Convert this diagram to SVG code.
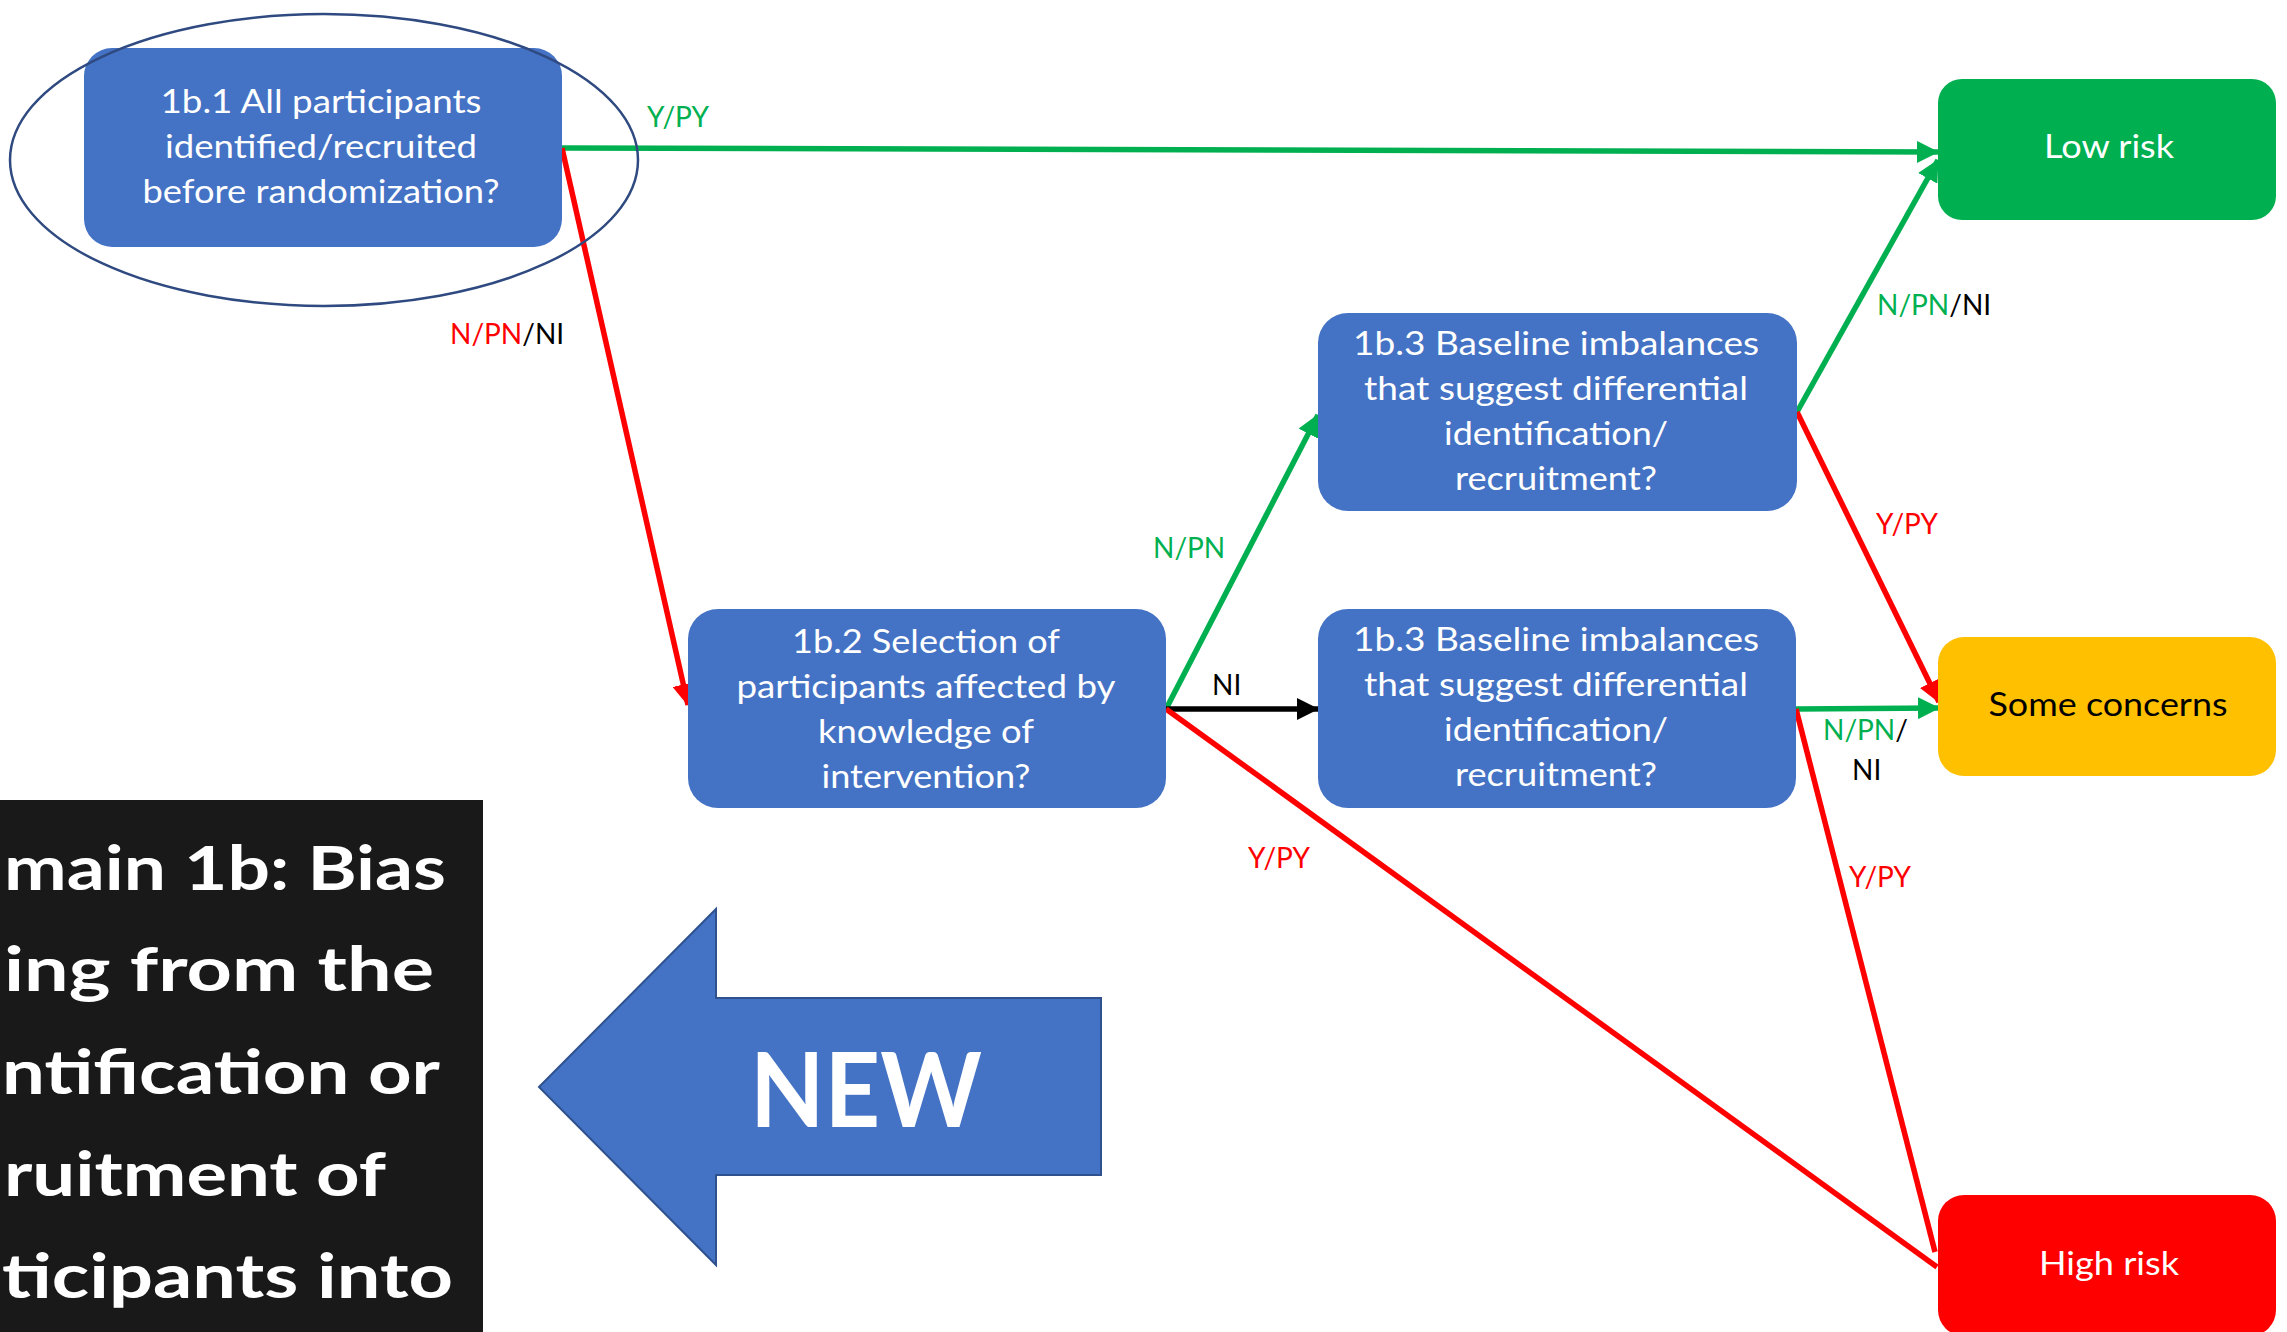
<svg xmlns="http://www.w3.org/2000/svg" width="2287" height="1332" viewBox="0 0 2287 1332">
  <defs>
    <style>
      .q rect { fill: #4472C4; }
      .q text { fill: #FFFFFF; font-family: Lato, "Noto Sans", sans-serif; font-size: 32px; text-anchor: middle; }
      .out text { font-family: Lato, "Noto Sans", sans-serif; font-size: 33px; text-anchor: middle; }
      .edge { fill: none; stroke-width: 5.5; }
      .g { stroke: #00B050; }
      .r { stroke: #FF0000; }
      .k { stroke: #000000; }
      .lbl { font-family: Lato, "Noto Sans", sans-serif; font-size: 28px; }
      .tg { fill: #00B050; }
      .tr { fill: #FF0000; }
      .tk { fill: #000000; }
      .title { fill: #FFFFFF; font-family: Lato, "Noto Sans", sans-serif; font-weight: bold; font-size: 61px; }
    </style>
    <marker id="ah-g" markerUnits="userSpaceOnUse" markerWidth="22" markerHeight="22" refX="21" refY="11" orient="auto">
      <path d="M0,0 L22,11 L0,22 z" fill="#00B050"/>
    </marker>
    <marker id="ah-r" markerUnits="userSpaceOnUse" markerWidth="22" markerHeight="22" refX="21" refY="11" orient="auto">
      <path d="M0,0 L22,11 L0,22 z" fill="#FF0000"/>
    </marker>
    <marker id="ah-k" markerUnits="userSpaceOnUse" markerWidth="22" markerHeight="22" refX="21" refY="11" orient="auto">
      <path d="M0,0 L22,11 L0,22 z" fill="#000000"/>
    </marker>
  </defs>

  <rect width="2287" height="1332" fill="#FFFFFF"/>

  <!-- connectors -->
  <g id="connectors">
    <line class="edge g" x1="562" y1="148" x2="1938" y2="152" marker-end="url(#ah-g)"/>
    <line class="edge r" x1="562" y1="148" x2="688" y2="705" marker-end="url(#ah-r)"/>
    <line class="edge g" x1="1166" y1="709" x2="1318" y2="415" marker-end="url(#ah-g)"/>
    <line class="edge k" x1="1166" y1="709" x2="1318" y2="709" marker-end="url(#ah-k)"/>
    <line class="edge r" x1="1166" y1="709" x2="1937" y2="1267"/>
    <line class="edge g" x1="1797" y1="412" x2="1938" y2="160" marker-end="url(#ah-g)"/>
    <line class="edge r" x1="1797" y1="412" x2="1939" y2="702" marker-end="url(#ah-r)"/>
    <line class="edge g" x1="1796" y1="709" x2="1939" y2="708" marker-end="url(#ah-g)"/>
    <line class="edge r" x1="1796" y1="709" x2="1935" y2="1252"/>

    <text class="lbl tg" x="647" y="127">Y/PY</text>
    <text class="lbl" x="450" y="344"><tspan class="tr">N/PN</tspan><tspan class="tk">/NI</tspan></text>
    <text class="lbl tg" x="1153" y="558">N/PN</text>
    <text class="lbl tk" x="1212" y="695">NI</text>
    <text class="lbl tr" x="1248" y="868">Y/PY</text>
    <text class="lbl" x="1877" y="315"><tspan class="tg">N/PN</tspan><tspan class="tk">/NI</tspan></text>
    <text class="lbl tr" x="1876" y="534">Y/PY</text>
    <text class="lbl" x="1823" y="740"><tspan class="tg">N/PN</tspan><tspan class="tk">/</tspan></text>
    <text class="lbl tk" x="1852" y="780">NI</text>
    <text class="lbl tr" x="1849" y="887">Y/PY</text>
  </g>

  <!-- question nodes -->
  <g id="q1b1" class="q">
    <rect x="84" y="48" width="478" height="199" rx="28"/>
    <text x="321" y="113" textLength="321" lengthAdjust="spacingAndGlyphs">1b.1 All participants</text>
    <text x="321" y="158" textLength="312" lengthAdjust="spacingAndGlyphs">identified/recruited</text>
    <text x="321" y="203" textLength="357" lengthAdjust="spacingAndGlyphs">before randomization?</text>
  </g>
  <g id="q1b2" class="q">
    <rect x="688" y="609" width="478" height="199" rx="30"/>
    <text x="926" y="653" textLength="268" lengthAdjust="spacingAndGlyphs">1b.2 Selection of</text>
    <text x="926" y="698" textLength="379" lengthAdjust="spacingAndGlyphs">participants affected by</text>
    <text x="926" y="743" textLength="216" lengthAdjust="spacingAndGlyphs">knowledge of</text>
    <text x="926" y="788" textLength="209" lengthAdjust="spacingAndGlyphs">intervention?</text>
  </g>
  <g id="q1b3-upper" class="q">
    <rect x="1318" y="313" width="479" height="198" rx="30"/>
    <text x="1556" y="355" textLength="406" lengthAdjust="spacingAndGlyphs">1b.3 Baseline imbalances</text>
    <text x="1556" y="400" textLength="384" lengthAdjust="spacingAndGlyphs">that suggest differential</text>
    <text x="1556" y="445" textLength="224" lengthAdjust="spacingAndGlyphs">identification/</text>
    <text x="1556" y="490" textLength="202" lengthAdjust="spacingAndGlyphs">recruitment?</text>
  </g>
  <g id="q1b3-lower" class="q">
    <rect x="1318" y="609" width="478" height="199" rx="30"/>
    <text x="1556" y="651" textLength="406" lengthAdjust="spacingAndGlyphs">1b.3 Baseline imbalances</text>
    <text x="1556" y="696" textLength="384" lengthAdjust="spacingAndGlyphs">that suggest differential</text>
    <text x="1556" y="741" textLength="224" lengthAdjust="spacingAndGlyphs">identification/</text>
    <text x="1556" y="786" textLength="202" lengthAdjust="spacingAndGlyphs">recruitment?</text>
  </g>

  <!-- outcome nodes -->
  <g id="low-risk" class="out">
    <rect x="1938" y="79" width="338" height="141" rx="24" fill="#00B050"/>
    <text x="2109" y="158" fill="#FFFFFF" textLength="130" lengthAdjust="spacingAndGlyphs">Low risk</text>
  </g>
  <g id="some-concerns" class="out">
    <rect x="1938" y="637" width="338" height="139" rx="26" fill="#FFC000"/>
    <text x="2108" y="716" fill="#000000" textLength="239" lengthAdjust="spacingAndGlyphs">Some concerns</text>
  </g>
  <g id="high-risk" class="out">
    <rect x="1938" y="1195" width="338" height="141" rx="26" fill="#FF0000"/>
    <text x="2109" y="1275" fill="#FFFFFF" textLength="140" lengthAdjust="spacingAndGlyphs">High risk</text>
  </g>

  <!-- highlight ring around the first question -->
  <ellipse id="highlight" cx="324" cy="160" rx="314" ry="146" fill="none" stroke="#2F4A80" stroke-width="2.5"/>

  <!-- domain title panel -->
  <g id="title-panel">
    <rect x="0" y="800" width="483" height="540" fill="#191919"/>
    <text class="title" x="4" y="890" textLength="442" lengthAdjust="spacingAndGlyphs">main 1b: Bias</text>
    <text class="title" x="4" y="991" textLength="430" lengthAdjust="spacingAndGlyphs">ing from the</text>
    <text class="title" x="2" y="1094" textLength="438" lengthAdjust="spacingAndGlyphs">ntification or</text>
    <text class="title" x="4" y="1196" textLength="382" lengthAdjust="spacingAndGlyphs">ruitment of</text>
    <text class="title" x="2" y="1298" textLength="451" lengthAdjust="spacingAndGlyphs">ticipants into</text>
  </g>

  <!-- "NEW" pointer arrow -->
  <g id="new-arrow">
    <polygon points="539,1087 716,909 716,998 1101,998 1101,1175 716,1175 716,1265" fill="#4472C4" stroke="#2F528F" stroke-width="2"/>
    <text x="866" y="1127" fill="#FFFFFF" font-family="Lato, 'Noto Sans', sans-serif" font-weight="bold" font-size="103" text-anchor="middle" textLength="232" lengthAdjust="spacingAndGlyphs">NEW</text>
  </g>
</svg>
